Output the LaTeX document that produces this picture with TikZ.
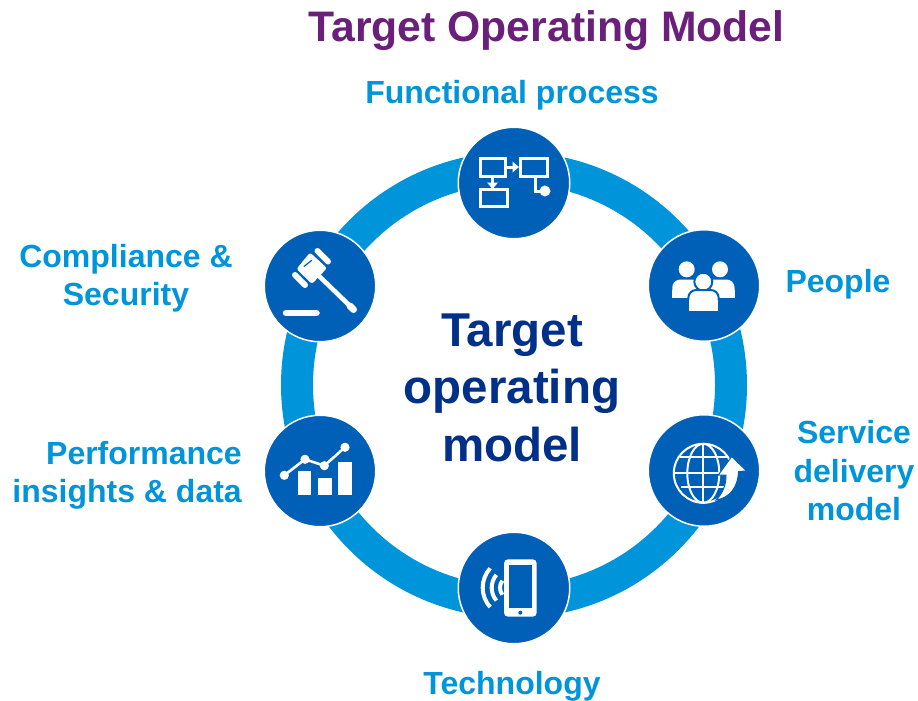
\documentclass[tikz,border=0pt]{standalone}
\usepackage{fontspec}
\setmainfont{Liberation Sans}
\usetikzlibrary{calc}
\definecolor{ringblue}{HTML}{0095DA}
\definecolor{ballblue}{HTML}{0060B8}
\definecolor{navytext}{HTML}{003087}
\definecolor{titlepurple}{HTML}{6A1F7A}
\tikzset{
 iconball/.style={circle, fill=ballblue, draw=white, line width=1.5pt, minimum size=111.5pt, inner sep=0},
 sidelabel/.style={text=ringblue, font=\fontsize{32}{38.5}\selectfont\bfseries, align=center, inner sep=0},
 midlabel/.style={text=navytext, font=\fontsize{47.5}{57.5}\selectfont\bfseries, align=center, inner sep=0},
 iconline/.style={white, line width=3pt}
}
\begin{document}
\begin{tikzpicture}[x=1pt, y=-1pt]
\useasboundingbox (0,0) rectangle (918,701);
\draw[ringblue, line width=32pt] (514,385) circle (217);
\node[iconball] (process) at (514,183) {};
\node[iconball] (people) at (704,285.5) {};
\node[iconball] (delivery) at (704,470.5) {};
\node[iconball] (tech) at (514,588) {};
\node[iconball] (insights) at (320,471) {};
\node[iconball] (compliance) at (320,286) {};
% texts
\node[text=titlepurple, font=\fontsize{42.7}{50}\selectfont\bfseries, inner sep=0] (title) at (546.5,31) {Target Operating Model};
\node[midlabel] (centre) at (512,387.5) {Target\\operating\\model};
\node[sidelabel] (processlabel) at (512,95) {Functional process};
\node[sidelabel] (peoplelabel) at (838,284) {People};
\node[sidelabel] (deliverylabel) at (854,471) {Service\\delivery\\model};
\node[sidelabel] (techlabel) at (512,686) {Technology};
\node[sidelabel, align=right, anchor=east] (insightslabel) at (242,475.5) {Performance\\insights \& data};
\node[sidelabel] (compliancelabel) at (126,278) {Compliance \&\\Security};
% process icon
\draw[iconline] (480,158.8) rectangle (505.5,176);
\draw[iconline] (520,158.8) rectangle (547,176);
\draw[iconline] (480,189.5) rectangle (507,206);
\draw[white, line width=3pt] (506,167)--(513,167);
\fill[white] (512.5,161.5)--(519,167)--(512.5,172.5)--cycle;
\draw[white, line width=3pt] (492.5,176)--(492.5,183);
\fill[white] (487,182.5)--(498,182.5)--(492.5,189)--cycle;
\draw[iconline] (535,176)--(535,191)--(545,191);
\fill[white] (545,191) circle (5.5);
% compliance icon
\draw[white, line width=4.6pt, line cap=round] (318,275)--(351,307);
\draw[white, line width=7pt, line cap=round] (350,306)--(353.5,309.5);
\draw[white, line width=6pt, line cap=round] (317.5,251)--(328,261.5);
\draw[white, line width=6pt, line cap=round] (295,275)--(305,285);
\fill[white, rounded corners=2.5pt] (310,252.5)--(327,268)--(312,284)--(296.5,269)--cycle;
\draw[ballblue, line width=1.2pt, line cap=round] (304,266.5)--(311.5,260.5);
\draw[white, line width=6.5pt, line cap=round] (286,313)--(316.5,313);
% people icon
\fill[white] (686.7,269.3) circle (8);
\fill[white] (720,269.3) circle (8);
\fill[white, rounded corners=8pt] (672.3,297.7)--(672.3,279.5)--(734.5,279.5)--(734.5,297.7)--cycle;
\fill[white] (672.3,290) rectangle (734.5,297.7);
\draw[ballblue, line width=2pt, fill=white] (703.3,281.7) circle (9);
\draw[ballblue, line width=2pt, fill=white, rounded corners=8pt] (688.3,318)--(688.3,290)--(718.7,290)--(718.7,318)--cycle;
\fill[ballblue] (686,311) rectangle (721,320);
\fill[white] (689.3,300) rectangle (717.7,310.7);
% delivery icon
\draw[white, line width=2pt] (703.3,473.3) circle (29.5);
\draw[white, line width=2pt] (703.3,473.3) ellipse (16 and 29.5);
\draw[white, line width=2pt] (703.3,444)--(703.3,503);
\draw[white, line width=2pt] (680,456.5)--(727,456.5);
\draw[white, line width=2pt] (674,473.3)--(733,473.3);
\draw[white, line width=2pt] (681,487)--(726,487);
\draw[ballblue, line width=1pt, fill=white] (716,500) .. controls (723,493) and (726,485) .. (726,475) -- (718.3,475) -- (731.7,456.5) -- (746.7,471) -- (738.5,471.5) .. controls (738,487) and (730,498) .. cycle;
% tech icon
\fill[white, rounded corners=4pt] (504,559.3) rectangle (536.7,616.7);
\fill[ballblue] (509,565) rectangle (532,608.3);
\fill[ballblue] (520.3,612.7) circle (2);
\foreach \r/\a in {11.7/37, 20/40, 29/42} {
 \draw[white, line width=4pt] ($(511.7,587.7)+({180-\a}:\r)$) arc ({180-\a}:{180+\a}:\r);
}
% insights icon
\draw[white, line width=2.6pt] (284.3,475.3)--(305,459.3)--(324.3,465.7)--(345,447.3);
\foreach \x/\y in {284.3/475.3, 305/459.3, 324.3/465.7, 345/447.3} {
 \fill[white] (\x,\y) circle (4.6);
}
\fill[white] (298.3,470.7) rectangle (311,494.7);
\fill[white] (318.3,477.7) rectangle (332,494.7);
\fill[white] (338,462) rectangle (352,494.7);
\end{tikzpicture}
\end{document}
